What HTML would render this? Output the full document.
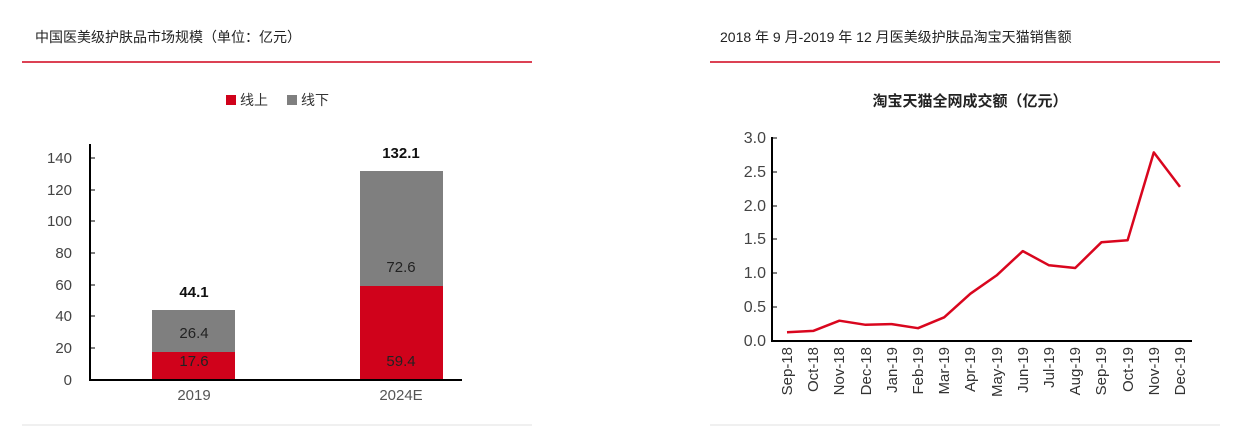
<!DOCTYPE html>
<html><head><meta charset="utf-8"><style>
body{margin:0;background:#fff;width:1240px;height:438px;overflow:hidden}
svg text{font-family:"Liberation Sans","Noto Sans CJK SC",sans-serif}
</style></head><body>
<svg width="1240" height="438" xmlns="http://www.w3.org/2000/svg">
<text x="35" y="42" font-size="14" fill="#222">中国医美级护肤品市场规模（单位：亿元）</text>
<line x1="22" y1="62" x2="532" y2="62" stroke="#d0021b" stroke-width="1.5"/>
<text x="720" y="42" font-size="14" fill="#222">2018 年 9 月-2019 年 12 月医美级护肤品淘宝天猫销售额</text>
<line x1="710" y1="62" x2="1220" y2="62" stroke="#d0021b" stroke-width="1.5"/>
<line x1="22" y1="425" x2="532" y2="425" stroke="#f0f0f0" stroke-width="2"/>
<line x1="710" y1="425" x2="1220" y2="425" stroke="#f0f0f0" stroke-width="2"/>
<rect x="226" y="95" width="10" height="10" fill="#d0021b"/>
<text x="240" y="105" font-size="14" fill="#333">线上</text>
<rect x="287" y="95" width="10" height="10" fill="#7f7f7f"/>
<text x="301" y="105" font-size="14" fill="#333">线下</text>
<g font-size="15" fill="#444" text-anchor="end">
<text x="72" y="385">0</text><text x="72" y="353">20</text><text x="72" y="321">40</text><text x="72" y="290">60</text><text x="72" y="258">80</text><text x="72" y="226">100</text><text x="72" y="195">120</text><text x="72" y="163">140</text>
</g>
<g stroke="#000" stroke-width="1">
<line x1="90" y1="380" x2="95" y2="380"/><line x1="90" y1="348" x2="95" y2="348"/><line x1="90" y1="316" x2="95" y2="316"/><line x1="90" y1="285" x2="95" y2="285"/><line x1="90" y1="253" x2="95" y2="253"/><line x1="90" y1="221" x2="95" y2="221"/><line x1="90" y1="190" x2="95" y2="190"/><line x1="90" y1="158" x2="95" y2="158"/>
</g>
<rect x="152" y="310" width="83" height="42" fill="#7f7f7f"/>
<rect x="152" y="352" width="83" height="28" fill="#d0021b"/>
<rect x="360" y="171" width="83" height="115" fill="#7f7f7f"/>
<rect x="360" y="286" width="83" height="94" fill="#d0021b"/>
<line x1="90" y1="144" x2="90" y2="381" stroke="#000" stroke-width="2"/>
<line x1="89" y1="380" x2="462" y2="380" stroke="#000" stroke-width="2"/>
<g font-size="15" text-anchor="middle">
<text x="194" y="297" font-weight="bold" fill="#111">44.1</text>
<text x="194" y="338" fill="#222">26.4</text>
<text x="194" y="366" fill="#222">17.6</text>
<text x="401" y="158" font-weight="bold" fill="#111">132.1</text>
<text x="401" y="272" fill="#222">72.6</text>
<text x="401" y="366" fill="#222">59.4</text>
<text x="194" y="400" fill="#555">2019</text>
<text x="401" y="400" fill="#555">2024E</text>
</g>
<text x="970" y="106" font-size="15" font-weight="bold" text-anchor="middle" fill="#222">淘宝天猫全网成交额（亿元）</text>
<g font-size="16" fill="#444" text-anchor="end">
<text x="766" y="346">0.0</text><text x="766" y="312">0.5</text><text x="766" y="278">1.0</text><text x="766" y="244">1.5</text><text x="766" y="211">2.0</text><text x="766" y="177">2.5</text><text x="766" y="143">3.0</text>
</g>
<g stroke="#000">
<line x1="772" y1="307" x2="777" y2="307"/><line x1="772" y1="273" x2="777" y2="273"/><line x1="772" y1="239" x2="777" y2="239"/><line x1="772" y1="206" x2="777" y2="206"/><line x1="772" y1="172" x2="777" y2="172"/><line x1="772" y1="138" x2="777" y2="138"/>
</g>
<line x1="772" y1="137" x2="772" y2="342" stroke="#000" stroke-width="2"/>
<line x1="771" y1="341" x2="1192" y2="341" stroke="#000" stroke-width="2"/>
<polyline fill="none" stroke="#d9061e" stroke-width="2.5" stroke-linejoin="round" points="787,332.2 813.2,330.9 839.4,320.7 865.6,324.8 891.8,324.1 918,328.2 944.2,317.3 970.4,293.7 996.6,275.4 1022.8,251.1 1049,265.3 1075.2,268 1101.4,242.3 1127.6,240.3 1153.8,152.4 1180,186.9"/>
<g font-size="15" fill="#333" text-anchor="end">
<text transform="translate(792,347) rotate(-90)">Sep-18</text>
<text transform="translate(818,347) rotate(-90)">Oct-18</text>
<text transform="translate(844,347) rotate(-90)">Nov-18</text>
<text transform="translate(871,347) rotate(-90)">Dec-18</text>
<text transform="translate(897,347) rotate(-90)">Jan-19</text>
<text transform="translate(923,347) rotate(-90)">Feb-19</text>
<text transform="translate(949,347) rotate(-90)">Mar-19</text>
<text transform="translate(975,347) rotate(-90)">Apr-19</text>
<text transform="translate(1002,347) rotate(-90)">May-19</text>
<text transform="translate(1028,347) rotate(-90)">Jun-19</text>
<text transform="translate(1054,347) rotate(-90)">Jul-19</text>
<text transform="translate(1080,347) rotate(-90)">Aug-19</text>
<text transform="translate(1106,347) rotate(-90)">Sep-19</text>
<text transform="translate(1133,347) rotate(-90)">Oct-19</text>
<text transform="translate(1159,347) rotate(-90)">Nov-19</text>
<text transform="translate(1185,347) rotate(-90)">Dec-19</text>
</g>
</svg>
</body></html>
